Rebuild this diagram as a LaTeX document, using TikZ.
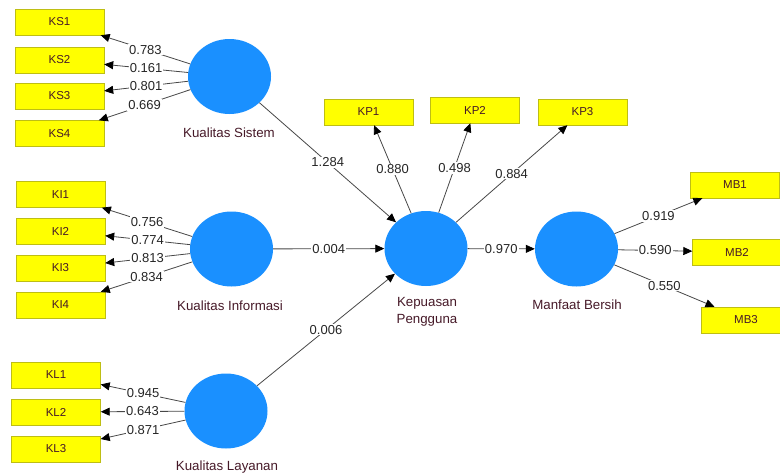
\documentclass[tikz,border=0pt]{standalone}
\usepackage{fontspec}
\setmainfont{Liberation Sans}
\usepackage{tikz}
\usetikzlibrary{shapes.geometric,arrows.meta}

\definecolor{lvblue}{RGB}{26,144,255}
\definecolor{indyellow}{RGB}{255,255,0}
\definecolor{indborder}{RGB}{190,190,20}
\definecolor{lvtext}{RGB}{70,25,40}

\begin{document}
\begin{tikzpicture}[
  x=1pt,y=-1pt,
  latent/.style={ellipse,fill=lvblue,minimum width=83pt,minimum height=75pt,inner sep=0pt},
  indicator/.style={draw=indborder,fill=indyellow,minimum width=89pt,minimum height=26pt,
    inner sep=0pt,text=lvtext,font=\fontsize{11.5}{14}\selectfont},
  lvname/.style={text=lvtext,align=center,font=\fontsize{13.3}{17}\selectfont},
  link/.style={draw=black!72,line width=0.8pt,-{Triangle[length=9pt,width=8pt,color=black]}},
  coef/.style={fill=white,inner sep=1pt,text=black!85,font=\fontsize{13}{14}\selectfont},
]
\useasboundingbox (0,0) rectangle (780,475);

%--- latent variables ---------------------------------------------------
\node[latent] (ks) at (229.5,76.5) {};
\node[latent] (ki) at (231.5,249) {};
\node[latent] (kl) at (226,411) {};
\node[latent] (kp) at (426,248.5) {};
\node[latent] (mb) at (576.5,249) {};

\node[lvname] (ksname) at (229,133) {Kualitas Sistem};
\node[lvname] (kiname) at (230,306) {Kualitas Informasi};
\node[lvname] (klname) at (227,467) {Kualitas Layanan};
\node[lvname] (kpname) at (427,311.5) {Kepuasan\\Pengguna};
\node[lvname] (mbname) at (577,305) {Manfaat Bersih};

%--- outer model (indicators) -------------------------------------------
\foreach \n/\y/\v in {1/22/0.783,2/60/0.161,3/96/0.801,4/133.5/0.669}{
  \node[indicator] (ks\n) at (59.5,\y) {KS\n};
  \draw[link] (ks) -- node[coef] {\v} (ks\n);
}
\foreach \n/\y/\v in {1/194.5/0.756,2/231/0.774,3/268/0.813,4/305/0.834}{
  \node[indicator] (ki\n) at (60.5,\y) {KI\n};
  \draw[link] (ki) -- node[coef] {\v} (ki\n);
}
\foreach \n/\y/\v in {1/375/0.945,2/412/0.643,3/449/0.871}{
  \node[indicator] (kl\n) at (56,\y) {KL\n};
  \draw[link] (kl) -- node[coef] {\v} (kl\n);
}
\foreach \n/\x/\y/\v in {1/368.5/112/0.880,2/475/110/0.498,3/582.5/112/0.884}{
  \node[indicator] (kp\n) at (\x,\y) {KP\n};
  \draw[link] (kp) -- node[coef] {\v} (kp\n);
}
\foreach \n/\x/\y/\v in {1/735/185/0.919,2/737/252/0.590,3/746/320/0.550}{
  \node[indicator] (mb\n) at (\x,\y) {MB\n};
  \draw[link] (mb) -- node[coef] {\v} (mb\n);
}

%--- inner model (paths) ------------------------------------------------
\draw[link] (ks) -- node[coef] {1.284} (kp);
\draw[link] (ki) -- node[coef] {0.004} (kp);
\draw[link] (kl) -- node[coef] {0.006} (kp);
\draw[link] (kp) -- node[coef] {0.970} (mb);

\end{tikzpicture}
\end{document}
